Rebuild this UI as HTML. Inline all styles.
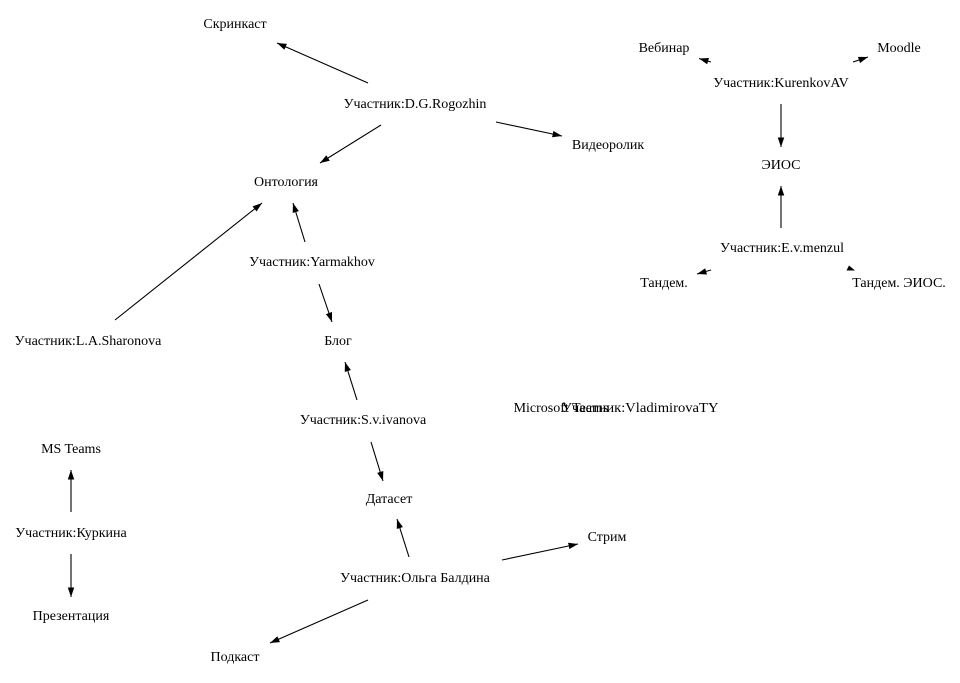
<!DOCTYPE html>
<html><head><meta charset="utf-8"><style>
html,body{margin:0;padding:0;background:#fff;}
svg{display:block;}
text{font-family:"Liberation Serif","DejaVu Serif",serif;font-size:14px;fill:#000;text-anchor:middle;}
line{stroke:#000;stroke-width:1.1;}
</style></head><body>
<svg width="960" height="683" viewBox="0 0 960 683" xmlns="http://www.w3.org/2000/svg">
<defs>
<marker id="a" markerUnits="userSpaceOnUse" markerWidth="10" markerHeight="8" refX="9.5" refY="3.25" orient="auto">
<path d="M0,0 L9.5,3.25 L0,6.5 z" fill="#000"/>
</marker>
</defs>
<!-- edges -->
<line x1="368" y1="83" x2="277" y2="43" marker-end="url(#a)"/>
<line x1="496" y1="122" x2="562" y2="136" marker-end="url(#a)"/>
<line x1="381" y1="125" x2="320" y2="163" marker-end="url(#a)"/>
<line x1="115" y1="320" x2="262" y2="203" marker-end="url(#a)"/>
<line x1="305" y1="242" x2="293" y2="203" marker-end="url(#a)"/>
<line x1="319" y1="284" x2="332" y2="322" marker-end="url(#a)"/>
<line x1="357" y1="400" x2="345" y2="362" marker-end="url(#a)"/>
<line x1="371" y1="442" x2="383" y2="481" marker-end="url(#a)"/>
<line x1="409" y1="557" x2="397" y2="519" marker-end="url(#a)"/>
<line x1="502" y1="560" x2="578" y2="544" marker-end="url(#a)"/>
<line x1="368" y1="600" x2="270" y2="643" marker-end="url(#a)"/>
<line x1="71" y1="512" x2="71" y2="470" marker-end="url(#a)"/>
<line x1="71" y1="554" x2="71" y2="597" marker-end="url(#a)"/>
<line x1="781" y1="104" x2="781" y2="147" marker-end="url(#a)"/>
<line x1="781" y1="228" x2="781" y2="186" marker-end="url(#a)"/>
<line x1="711" y1="62" x2="699" y2="58.5" marker-end="url(#a)"/>
<line x1="853" y1="62" x2="868" y2="57" marker-end="url(#a)"/>
<line x1="711" y1="270" x2="697" y2="274" marker-end="url(#a)"/>
<polygon points="849,265.5 846.5,270.5 855,270.5" fill="#000"/>
<!-- labels -->
<text x="235" y="28">Скринкаст</text>
<text x="415" y="108">Участник:D.G.Rogozhin</text>
<text x="608" y="149">Видеоролик</text>
<text x="286" y="186">Онтология</text>
<text x="312" y="266">Участник:Yarmakhov</text>
<text x="88" y="345">Участник:L.A.Sharonova</text>
<text x="338" y="345">Блог</text>
<text x="363" y="424">Участник:S.v.ivanova</text>
<text x="561" y="412">Microsoft Teams</text>
<text x="640" y="412" textLength="157" lengthAdjust="spacingAndGlyphs">Участник:VladimirovaTY</text>
<text x="71" y="453">MS Teams</text>
<text x="389" y="503">Датасет</text>
<text x="71" y="537">Участник:Куркина</text>
<text x="607" y="541">Стрим</text>
<text x="415" y="582">Участник:Ольга Балдина</text>
<text x="71" y="620">Презентация</text>
<text x="235" y="661">Подкаст</text>
<text x="664" y="52">Вебинар</text>
<text x="899" y="52">Moodle</text>
<text x="781" y="87">Участник:KurenkovAV</text>
<text x="781" y="169">ЭИОС</text>
<text x="782" y="252">Участник:E.v.menzul</text>
<text x="664" y="287">Тандем.</text>
<text x="899" y="287">Тандем. ЭИОС.</text>
</svg>
</body></html>
